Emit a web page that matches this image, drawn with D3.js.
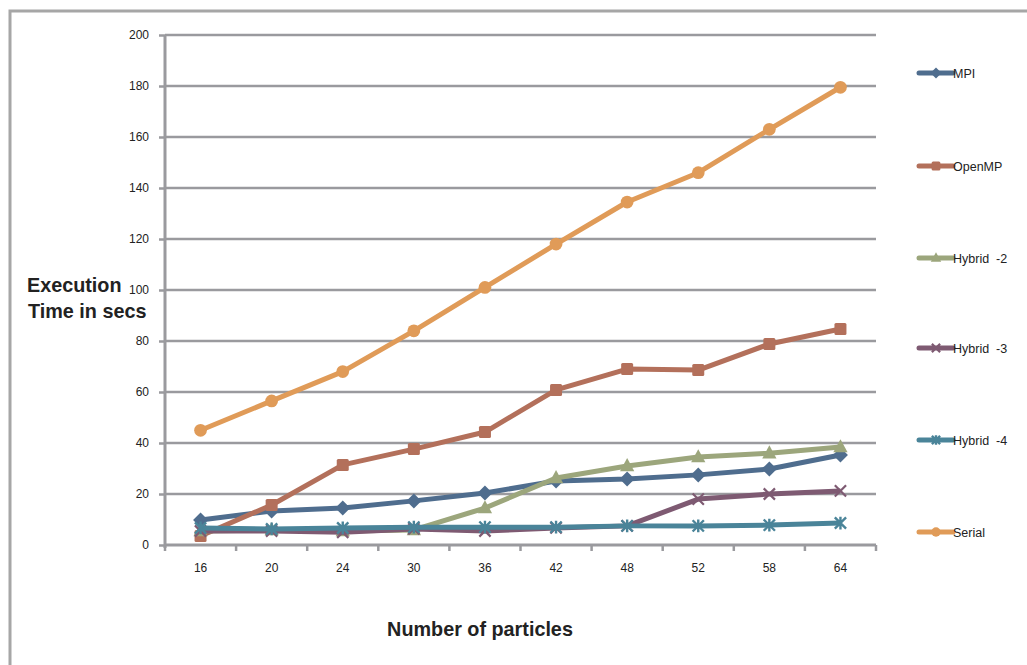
<!DOCTYPE html>
<html>
<head>
<meta charset="utf-8">
<script src="https://cdn.jsdelivr.net/npm/d3@7"></script>
<style>
  body { margin: 0; background: #fff; }
  svg { display: block; font-family: "Liberation Sans", Arial, sans-serif; }
</style>
</head>
<body>
<svg id="chart"></svg>
<script>
// data
const categories = ["16", "20", "24", "30", "36", "42", "48", "52", "58", "64"];
const mpi     = [9.8, 13.3, 14.5, 17.3, 20.4, 25.1, 25.9, 27.5, 29.8, 35.3];
const openmp  = [3.5, 15.7, 31.4, 37.6, 44.3, 60.8, 69, 68.6, 78.8, 84.7];
const hybrid2 = [5.5, 5.9, 5.5, 5.9, 14.5, 26.3, 31, 34.5, 36, 38.4];
const hybrid3 = [5.5, 5.5, 5, 6.3, 5.5, 6.7, 7.5, 18, 20, 21.2];
const hybrid4 = [6.7, 6.3, 6.7, 7, 7, 7, 7.5, 7.5, 7.8, 8.6];
const serial  = [45, 56.5, 68, 84, 101, 118, 134.5, 146, 163, 179.5];
const yTicks = [0, 20, 40, 60, 80, 100, 120, 140, 160, 180, 200];

const series = [
    { name: "MPI", values: mpi, color: "#4f6d8e", marker: "diamond" },
    { name: "OpenMP", values: openmp, color: "#b3705b", marker: "square" },
    { name: "Hybrid  -2", values: hybrid2, color: "#9ca67c", marker: "triangle" },
    { name: "Hybrid  -3", values: hybrid3, color: "#7e5a72", marker: "x" },
    { name: "Hybrid  -4", values: hybrid4, color: "#4a8499", marker: "star" },
    { name: "Serial", values: serial, color: "#e09b58", marker: "circle" }
];

const W = 1027, H = 665;
const margin = { top: 35, right: 151, bottom: 120, left: 165 };
const width = W - margin.left - margin.right;
const height = H - margin.top - margin.bottom;
const grey = "#9a9a9e";

const root = d3.select("#chart").attr("width", W).attr("height", H);

// outer frame
root.append("rect")
    .attr("x", 10).attr("y", 11)
    .attr("width", W + 20).attr("height", H + 20)
    .attr("fill", "none").attr("stroke", "#a6a6a6").attr("stroke-width", 3);

const svg = root.append("g")
    .attr("transform", `translate(${margin.left}, ${margin.top})`);

const xScale = d3.scaleBand().domain(categories).range([0, width]);
const yScale = d3.scaleLinear().domain([0, 200]).range([height, 0]);

// gridlines
svg.append("g").selectAll("line")
    .data(yTicks.filter(d => d > 0))
    .enter().append("line")
    .attr("x1", 0).attr("x2", width)
    .attr("y1", d => yScale(d)).attr("y2", d => yScale(d))
    .attr("stroke", grey).attr("stroke-width", 2.5);

// y axis
const yAxis = svg.append("g")
    .call(d3.axisLeft(yScale).tickValues(yTicks).tickSize(6).tickPadding(10));
yAxis.select(".domain").attr("stroke", grey).attr("stroke-width", 3)
    .attr("d", `M0,${height + 3}V0`);
yAxis.selectAll(".tick line").attr("stroke", grey).attr("stroke-width", 2.5);
yAxis.selectAll("text").attr("font-size", 12).attr("fill", "#222")
    .attr("font-family", "Liberation Sans, Arial, sans-serif");

// x axis with ticks on band edges
const xAxis = svg.append("g").attr("transform", `translate(0, ${height})`)
    .call(d3.axisBottom(xScale).tickSize(0).tickPadding(18));
xAxis.select(".domain").attr("stroke", grey).attr("stroke-width", 3)
    .attr("d", `M0,0H${width}`);
xAxis.selectAll("text").attr("font-size", 12).attr("fill", "#222")
    .attr("font-family", "Liberation Sans, Arial, sans-serif");
svg.append("g").selectAll("line")
    .data(categories.concat(["end"]))
    .enter().append("line")
    .attr("x1", (d, i) => i * xScale.step()).attr("x2", (d, i) => i * xScale.step())
    .attr("y1", height).attr("y2", height + 6)
    .attr("stroke", grey).attr("stroke-width", 2.5);

// axis titles
const yTitle = root.append("text")
    .attr("font-size", 19.8).attr("font-weight", "bold").attr("fill", "#222");
yTitle.append("tspan").attr("x", 27).attr("y", 292).text("Execution");
yTitle.append("tspan").attr("x", 28).attr("y", 318).text("Time in secs");

root.append("text")
    .attr("x", 480).attr("y", 636)
    .attr("font-size", 19.8).attr("font-weight", "bold").attr("fill", "#222")
    .attr("text-anchor", "middle")
    .text("Number of particles");

// markers
function drawMarker(g, type, color, s) {
    if (type === "diamond") {
        g.append("path").attr("d", `M0,${-s}L${s},0L0,${s}L${-s},0Z`).attr("fill", color);
    } else if (type === "square") {
        g.append("rect").attr("x", -s * 0.8).attr("y", -s * 0.8)
            .attr("width", s * 1.6).attr("height", s * 1.6).attr("rx", 1.5).attr("fill", color);
    } else if (type === "triangle") {
        g.append("path").attr("d", `M0,${-s * 1.05}L${s * 0.95},${s * 0.7}L${-s * 0.95},${s * 0.7}Z`).attr("fill", color);
    } else if (type === "x") {
        g.append("path").attr("d", `M${-s * 0.75},${-s * 0.75}L${s * 0.75},${s * 0.75}M${-s * 0.75},${s * 0.75}L${s * 0.75},${-s * 0.75}`)
            .attr("stroke", color).attr("stroke-width", 2.2);
    } else if (type === "star") {
        g.append("path").attr("d", `M${-s * 0.75},${-s * 0.75}L${s * 0.75},${s * 0.75}M${-s * 0.75},${s * 0.75}L${s * 0.75},${-s * 0.75}M0,${-s * 0.85}V${s * 0.85}`)
            .attr("stroke", color).attr("stroke-width", 2.4);
    } else {
        g.append("circle").attr("r", s * 0.85).attr("fill", color);
    }
}

const line = d3.line()
    .x((d, i) => xScale(categories[i]) + xScale.bandwidth() / 2)
    .y(d => yScale(d));

series.forEach(s => {
    const g = svg.append("g");
    g.append("path")
        .datum(s.values)
        .attr("fill", "none")
        .attr("stroke", s.color)
        .attr("stroke-width", 5)
        .attr("stroke-linejoin", "round")
        .attr("d", line);
    s.values.forEach((v, i) => {
        const m = g.append("g")
            .attr("transform", `translate(${xScale(categories[i]) + xScale.bandwidth() / 2}, ${yScale(v)})`);
        drawMarker(m, s.marker, s.color, 7.5);
    });
});

// legend
const legend = root.append("g");
const legendY = [73, 166, 258, 348, 440, 532];
series.forEach((s, i) => {
    const g = legend.append("g").attr("transform", `translate(919, ${legendY[i]})`);
    g.append("line").attr("x1", 0).attr("x2", 34).attr("y1", 0).attr("y2", 0)
        .attr("stroke", s.color).attr("stroke-width", 5).attr("stroke-linecap", "round");
    const m = g.append("g").attr("transform", "translate(17, 0)");
    drawMarker(m, s.marker, s.color, 5.5);
    g.append("text").attr("x", 34).attr("y", 4.5)
        .attr("font-size", 12.5).attr("fill", "#222")
        .style("white-space", "pre")
        .text(s.name);
});
</script>
</body>
</html>
